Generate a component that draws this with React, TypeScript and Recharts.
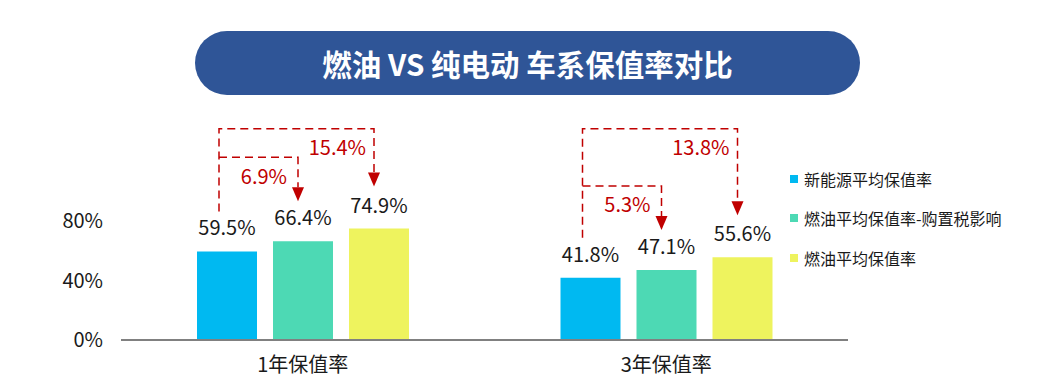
import { Bar, BarChart, LabelList, XAxis, YAxis } from 'recharts';

const categories = ['1年保值率', '3年保值率'];
const evRate = [59.5, 41.8];
const oilTaxRate = [66.4, 47.1];
const oilRate = [74.9, 55.6];
const seriesNames = ['新能源平均保值率', '燃油平均保值率-购置税影响', '燃油平均保值率'];
const yTicks = [0, 40, 80];

const COLORS = ['#00b9f1', '#4dd9b4', '#eef35e'];
const RED = '#c00000';
const FONT = '"Noto Sans CJK SC", "Noto Sans", sans-serif';
const BAR_SIZE = 60;
const BAR_GAP = 16;

const data = categories.map((name, i) => ({
  name,
  ev: evRate[i],
  oilTax: oilTaxRate[i],
  oil: oilRate[i],
}));

const pct = (v: number) => `${v}%`;

// dashed brackets drawn from the last bar of each group, using the bar geometry
function Bracket(props: any) {
  const x = Number(props.x);
  const y = Number(props.y);
  const width = Number(props.width);
  const height = Number(props.height);
  const value = Number(props.value);
  const i = oilRate.indexOf(value);
  if (i < 0 || !height) return null;
  const base = y + height;
  const ppu = height / value;
  const yOf = (v: number) => base - v * ppu;

  const step = width + BAR_GAP;
  const yellowX = x + width / 2 - 5;
  const tealX = x + width / 2 - step - 5;
  const blueX = x + width / 2 - 2 * step - 8;

  const blueBottom = yOf(evRate[i]) - 40;
  const topLine = yOf(142);
  const yellowTip = y - 42;
  const tealTip = yOf(oilTaxRate[i]) - 40;
  const midLine = tealTip - 44;
  const ah = 14;
  const aw = 6;

  const dash = { stroke: RED, strokeWidth: 1.5, strokeDasharray: '8 5', fill: 'none' };
  return (
    <g>
      <polyline points={`${blueX},${blueBottom} ${blueX},${topLine} ${yellowX},${topLine} ${yellowX},${yellowTip - ah}`} {...dash} />
      <polyline points={`${blueX},${midLine} ${tealX},${midLine} ${tealX},${tealTip - ah}`} {...dash} />
      <polygon points={`${yellowX - aw},${yellowTip - ah} ${yellowX + aw},${yellowTip - ah} ${yellowX},${yellowTip}`} fill={RED} />
      <polygon points={`${tealX - aw},${tealTip - ah} ${tealX + aw},${tealTip - ah} ${tealX},${tealTip}`} fill={RED} />
      <text x={yellowX - 8} y={topLine + 18} textAnchor="end" dominantBaseline="central" fill={RED} fontSize={20} fontFamily={FONT}>
        {(oilRate[i] - evRate[i]).toFixed(1)}%
      </text>
      <text x={tealX - 11} y={midLine + 18} textAnchor="end" dominantBaseline="central" fill={RED} fontSize={20} fontFamily={FONT}>
        {(oilTaxRate[i] - evRate[i]).toFixed(1)}%
      </text>
    </g>
  );
}

export default function App() {
  const keys = ['ev', 'oilTax', 'oil'];
  return (
    <div style={{ position: 'absolute', left: 0, top: 0, width: 1052, height: 385, background: '#fff', fontFamily: FONT }}>
      <div
        style={{
          position: 'absolute',
          left: 195,
          top: 31,
          width: 665,
          height: 64,
          borderRadius: 32,
          background: '#2f5597',
          color: '#fff',
          fontSize: 29.5,
          fontWeight: 700,
          display: 'flex',
          alignItems: 'center',
          justifyContent: 'center',
        }}
      >
        燃油 VS 纯电动 车系保值率对比
      </div>

      <div style={{ position: 'absolute', left: 0, top: 0 }}>
        <BarChart
          width={1052}
          height={385}
          data={data}
          margin={{ top: 221, right: 204, left: 0, bottom: 15 }}
          barSize={BAR_SIZE}
          barGap={BAR_GAP}
        >
          <XAxis
            dataKey="name"
            height={30}
            axisLine={{ stroke: '#808080', strokeWidth: 2 }}
            tickLine={false}
            tickMargin={12}
            tick={{ fill: '#1a1a1a', fontSize: 20, fontFamily: FONT }}
          />
          <YAxis
            width={121}
            domain={[0, 80]}
            ticks={yTicks}
            axisLine={false}
            tickLine={false}
            tickMargin={12}
            tickFormatter={pct}
            tick={{ fill: '#1a1a1a', fontSize: 20, fontFamily: FONT }}
          />
          {keys.map((k, idx) => (
            <Bar key={k} dataKey={k} name={seriesNames[idx]} fill={COLORS[idx]} isAnimationActive={false}>
              <LabelList dataKey={k} position="top" offset={16} formatter={pct} fill="#1a1a1a" fontSize={20} fontFamily={FONT} />
              {k === 'oil' && <LabelList dataKey="oil" content={Bracket} />}
            </Bar>
          ))}
        </BarChart>
      </div>

      <div style={{ position: 'absolute', left: 790, top: 159 }}>
        {seriesNames.map((n, i) => (
          <div key={n} style={{ display: 'flex', alignItems: 'center', height: 39.5, fontSize: 16, color: '#1a1a1a' }}>
            <span style={{ width: 8, height: 8, background: COLORS[i], marginRight: 6 }} />
            {n}
          </div>
        ))}
      </div>
    </div>
  );
}
